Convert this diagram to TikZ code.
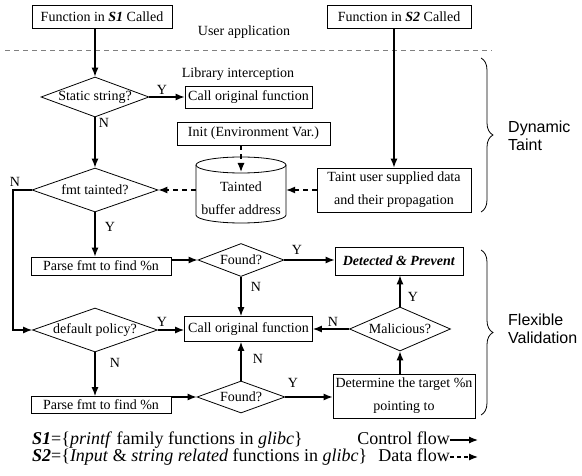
\documentclass[tikz,border=0pt]{standalone}
\usepackage{fontspec}
\setmainfont{Liberation Serif}
\newfontfamily\bracefont{Liberation Sans}
\usetikzlibrary{arrows.meta,shapes.geometric,decorations.pathreplacing}
\begin{document}
\begin{tikzpicture}[x=1pt,y=1pt,
 txt/.style={font=\fontsize{14}{23}\selectfont, align=center},
 box/.style={draw, line width=0.8pt, inner sep=0pt, txt},
 dia/.style={draw, diamond, line width=0.8pt, inner sep=0pt},
 ctrl/.style={line width=1.2pt, -{Latex[length=9pt,width=7pt]}},
 data/.style={ctrl, dash pattern=on 5pt off 4pt},
 lbl/.style={font=\fontsize{14}{16}\selectfont, inner sep=0pt},
 legend/.style={font=\fontsize{18}{20}\selectfont, inner sep=0pt, text height=13pt, text depth=4pt},
 bracestyle/.style={decorate, decoration={brace, amplitude=12pt}, line width=0.8pt},
 side/.style={font=\bracefont\fontsize{16}{18}\selectfont, align=left, inner sep=0pt}]
\useasboundingbox (0,0) rectangle (582,-476);

% top
\node[box, minimum width=140pt, minimum height=23pt] (s1) at (102,-16.5) {Function in \textbf{\textit{S1}} Called};
\node[box, minimum width=144pt, minimum height=23pt] (s2) at (399,-16.5) {Function in \textbf{\textit{S2}} Called};
\node[lbl] (user) at (244,-32) {User application};
\coordinate (sepl) at (5,-50);
\coordinate (sepr) at (492,-50);
\draw[gray, line width=0.6pt, dash pattern=on 5pt off 4pt] (sepl) -- (sepr);
\node[lbl] (lib) at (238,-74) {Library interception};

% dynamic taint part
\node[dia, minimum width=108pt, minimum height=40pt] (static) at (95,-97) {};
\node[lbl] at (static) {Static string?};
\node[box, minimum width=127pt, minimum height=22pt] (call1) at (248.5,-97) {Call original function};
\node[box, minimum width=153pt, minimum height=23pt] (init) at (253.5,-133.5) {Init (Environment Var.)};

\node[minimum width=90pt, minimum height=66pt, inner sep=0pt] (cyl) at (241,-190) {};
\draw[line width=0.8pt] (196,-165) -- (196,-215) arc[start angle=180, end angle=360, x radius=45pt, y radius=8pt] -- (286,-165);
\draw[line width=0.8pt] (241,-165) ellipse[x radius=45pt, y radius=8pt];
\node[txt] (cyltext) at (241,-198.5) {Tainted\\buffer address};
\coordinate (cyltop) at (241,-172);

\node[dia, minimum width=126pt, minimum height=44pt] (fmt) at (95,-190) {};
\node[lbl] at (fmt) {fmt tainted?};
\node[box, minimum width=154pt, minimum height=44pt] (taint) at (394,-190) {Taint user supplied data\\and their propagation};

% flexible validation part
\node[box, minimum width=140pt, minimum height=18pt] (parse1) at (101,-266) {Parse fmt to find \%n};
\node[dia, minimum width=86pt, minimum height=33pt] (found1) at (241,-260) {};
\node[lbl] at (found1) {Found?};
\node[box, minimum width=128pt, minimum height=28pt] (det) at (399,-261) {\textbf{\textit{Detected \& Prevent}}};
\node[box, minimum width=128pt, minimum height=25pt] (call2) at (248.5,-329) {Call original function};
\node[dia, minimum width=125pt, minimum height=44pt] (def) at (95,-330) {};
\node[lbl] at (def) {default policy?};
\node[dia, minimum width=101pt, minimum height=44pt] (mal) at (400,-329) {};
\node[lbl] at (mal) {Malicious?};
\node[box, minimum width=140pt, minimum height=17pt] (parse2) at (101,-405) {Parse fmt to find \%n};
\node[dia, minimum width=88pt, minimum height=32pt] (found2) at (241,-397) {};
\node[lbl] at (found2) {Found?};
\node[box, minimum width=142pt, minimum height=44pt] (detm) at (404,-396) {Determine the target \%n\\pointing to};

% control flow
\draw[ctrl] (static.north |- s1.south) -- (static.north);
\draw[ctrl] (static.east) -- (static.east -| call1.west);
\draw[ctrl] (static.south) -- (fmt.north);
\coordinate (nbend) at (13,-190);
\draw[ctrl] (fmt.west) -- (nbend) |- (def.west);
\draw[ctrl] (fmt.south) -- (fmt.south |- parse1.north);
\draw[ctrl] (parse1.east |- found1.west) -- (found1.west);
\draw[ctrl] (found1.east) -- (found1.east -| det.west);
\draw[ctrl] (found1.south) -- (found1.south |- call2.north);
\draw[ctrl] (def.east) -- (def.east -| call2.west);
\draw[ctrl] (def.south) -- (def.south |- parse2.north);
\draw[ctrl] (parse2.east |- found2.west) -- (found2.west);
\draw[ctrl] (found2.north) -- (found2.north |- call2.south);
\draw[ctrl] (found2.east) -- (found2.east -| detm.west);
\draw[ctrl] (detm.north -| mal.south) -- (mal.south);
\draw[ctrl] (mal.north) -- (mal.north |- det.south);
\draw[ctrl] (mal.west) -- (mal.west -| call2.east);
\draw[ctrl] (taint.north |- s2.south) -- (taint.north);

% data flow
\draw[data] (init.south -| cyltop) -- (cyltop);
\draw[data] (taint.west) -- (taint.west -| cyl.east);
\draw[data] (cyl.west) -- (fmt.east);

% labels
\node[lbl] at (162,-90) {Y};
\node[lbl] at (104,-123) {N};
\node[lbl] at (15,-182) {N};
\node[lbl] at (110,-227) {Y};
\node[lbl] at (297,-250) {Y};
\node[lbl] at (256,-287) {N};
\node[lbl] at (162,-322) {Y};
\node[lbl] at (333,-322) {N};
\node[lbl] at (413,-297) {Y};
\node[lbl] at (115,-363) {N};
\node[lbl] at (258,-359) {N};
\node[lbl] at (293,-383) {Y};

% braces
\coordinate (b1t) at (481,-58);
\coordinate (b1b) at (481,-212);
\coordinate (b2t) at (481,-250);
\coordinate (b2b) at (481,-415);
\draw[bracestyle] (b1t) -- (b1b);
\draw[bracestyle] (b2t) -- (b2b);
\node[side, anchor=west] (dt) at (508,-136) {Dynamic\\Taint};
\node[side, anchor=west] (fv) at (508,-329) {Flexible\\Validation};

% legend
\node[legend, anchor=west] (leg1) at (32,-440) {\textbf{\textit{S1}}=\{\textit{printf} family functions in \textit{glibc}\}};
\node[legend, anchor=west] (leg2) at (32,-457) {\textbf{\textit{S2}}=\{\textit{Input} \& \textit{string related} functions in \textit{glibc}\}};
\node[legend, anchor=east] (cf) at (450,-440) {Control flow};
\node[legend, anchor=east] (df) at (450,-457) {Data flow};
\coordinate (cfend) at (478,-440);
\coordinate (dfend) at (478,-457);
\draw[ctrl] (cf.east) -- (cfend);
\draw[data, dash pattern=on 4pt off 3pt] (df.east) -- (dfend);
\end{tikzpicture}
\end{document}
